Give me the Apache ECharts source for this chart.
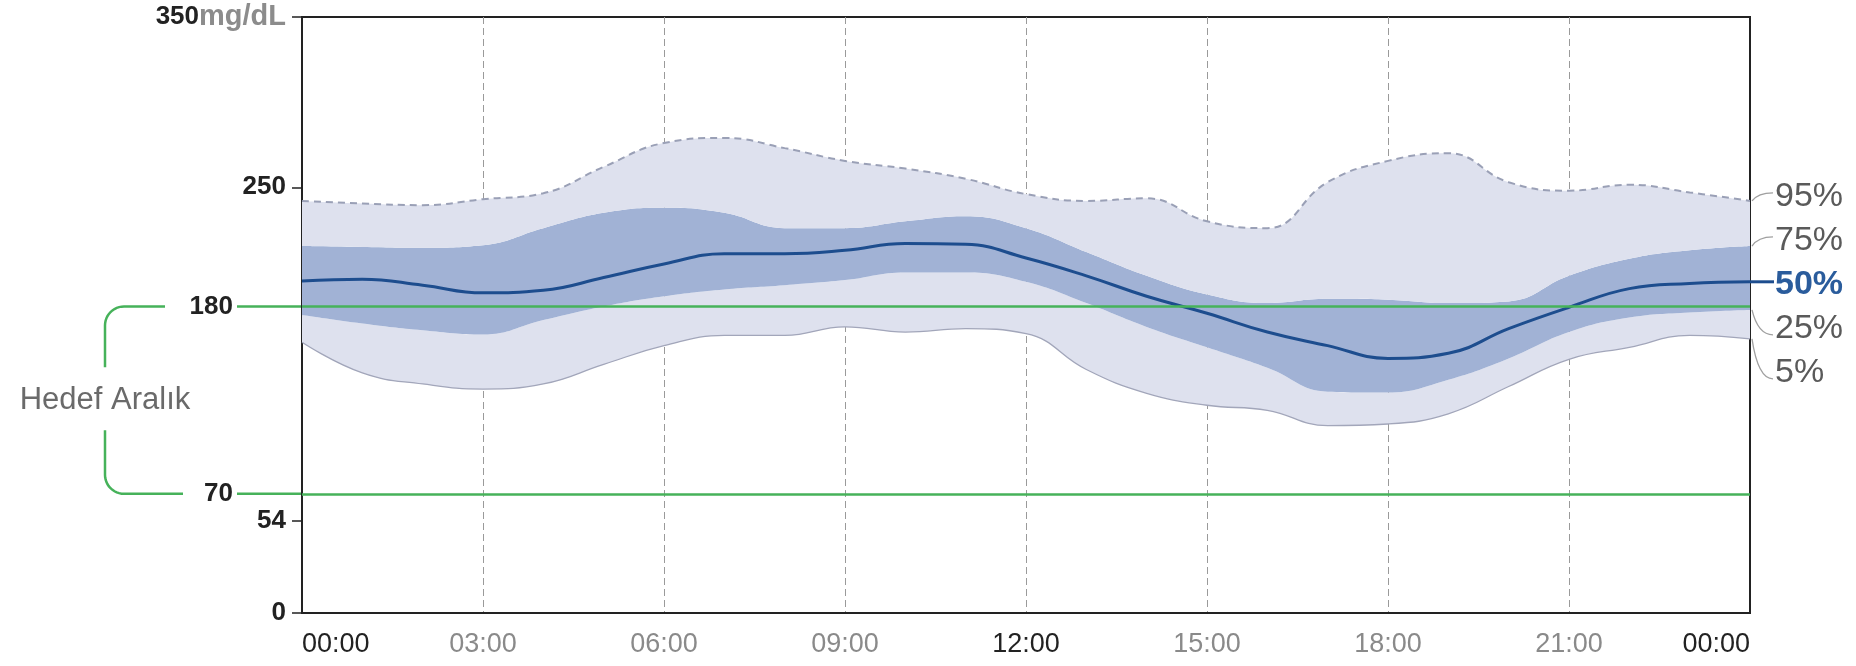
<!DOCTYPE html>
<html><head><meta charset="utf-8">
<script src="https://cdn.jsdelivr.net/npm/echarts@6/dist/echarts.min.js"></script>
<style>html,body{margin:0;padding:0;background:#fff}#c{width:1856px;height:666px}</style>
</head><body><div id="c"></div>
<script>
// ---- data (mg/dL per hour of day) ----
const hours = [0,1,2,3,4,5,6,7,8,9,10,11,12,13,14,15,16,17,18,19,20,21,22,23,24];
const p5  = [159,141,134.5,131.5,134.5,146,157,163,163,168,165,167,164,143,129,122,119,110,111,117,133,149,156,163,161];
const p25 = [175,170,166,163.5,172,180,186,190,192.5,195.5,200,200,194.5,182,168,156,144,130,129.5,137,149.5,165,173.5,176.5,178];
const p50 = [195,196,192.5,188,189.5,197,205,211,211,213,217,216.5,208.5,198,186,176,165,157,149.5,152.5,167,179.5,190.5,193.5,194.5];
const p75 = [215.5,215,214.5,216,226,235,238,235,226,226,230,233,226,212,198,187,182,184.5,184,182,183,198,208,213,215.5];
const p95 = [242,240.5,239.5,243,246.5,262,276,279,273,265.5,261,255,246,242,243.5,230,226,253,265.5,270,253,248,251.5,247,242];
const yTicks = [0,54,250,350];
const targetRange = [70,180];
const xTickLabels = ['00:00','03:00','06:00','09:00','12:00','15:00','18:00','21:00','00:00'];
const pctLabels = ['95%','75%','50%','25%','5%'];
const unitLabel = 'mg/dL';
const targetLabel = 'Hedef Aralık';

const diff = (a,b) => a.map((v,i)=>v-b[i]);
const LIGHT = '#dee1ee', DARK = '#a1b2d5', MED = '#1d4d8e', GREEN = '#46b25a';
const SM = 0.45;
const FONT = '"Liberation Sans",Arial,sans-serif';

const chart = echarts.init(document.getElementById('c'), null, {renderer:'canvas'});
const bandSeries = (name, data, color) => ({
  name, type:'line', stack:'band', data, smooth:SM, symbol:'none', silent:true, z:2,
  lineStyle:{width:0, opacity:0}, areaStyle: color ? {color, opacity:1} : undefined
});
chart.setOption({
  animation:false,
  grid:{left:302, right:106, top:17, bottom:53, show:true, borderColor:'#222', borderWidth:2, backgroundColor:'transparent', outerBoundsMode:'none'},
  xAxis:{type:'category', data:hours, boundaryGap:false,
    axisLine:{show:true, onZero:false, lineStyle:{color:'#222', width:2}},
    axisTick:{show:false},
    splitLine:{show:true, interval:2, showMinLine:false, showMaxLine:false, lineStyle:{color:'#9a9a9a', width:1, type:[7,4]}},
    axisLabel:{margin:18, interval:2, fontFamily:FONT, fontSize:27, alignMinLabel:'left', alignMaxLabel:'right',
      formatter:(v,i) => (i%12===0 ? '{d|' : '{g|') + xTickLabels[Math.round(i/3)] + '}',
      rich:{d:{color:'#222', fontSize:27, fontFamily:FONT},
            g:{color:'#8a8a8a', fontSize:27, fontFamily:FONT}}}
  },
  yAxis:{type:'value', min:0, max:350,
    axisLine:{show:true, onZero:false, lineStyle:{color:'#222', width:2}},
    axisTick:{show:true, length:10, customValues:yTicks, lineStyle:{color:'#222', width:1.5}},
    splitLine:{show:false},
    axisLabel:{margin:16, customValues:yTicks, fontFamily:FONT, fontSize:26, fontWeight:'bold', color:'#222',
      formatter:v => v===350 ? '{b|350}{u|'+unitLabel+'}' : '{b|'+v+'}',
      rich:{b:{fontSize:26, fontWeight:'bold', color:'#222', fontFamily:FONT},
            u:{fontSize:29, fontWeight:'bold', color:'#8c8c8c', fontFamily:FONT}}}
  },
  series:[
    bandSeries('base', p5, null),
    bandSeries('5-25', diff(p25,p5), LIGHT),
    bandSeries('25-75', diff(p75,p25), DARK),
    bandSeries('75-95', diff(p95,p75), LIGHT),
    {name:'target', type:'line', data:[], z:3, silent:true,
      markLine:{silent:true, symbol:'none', label:{show:false}, animation:false,
        lineStyle:{color:GREEN, width:2.5, type:'solid'},
        data: targetRange.map(v=>({yAxis:v}))}},
    {name:'95%', type:'line', data:p95, smooth:SM, symbol:'none', z:3, silent:true,
      lineStyle:{color:'#9aa0b6', width:2, type:[7,5]}},
    {name:'5%', type:'line', data:p5, smooth:SM, symbol:'none', z:3, silent:true,
      lineStyle:{color:'#a2a6ba', width:1.3}},
    {name:'50%', type:'line', data:p50, smooth:SM, symbol:'none', z:4, silent:true,
      lineStyle:{color:MED, width:3}}
  ]
});

// ---- annotations positioned through the chart's scales ----
const last = hours.length-1;
const px = (i,v) => chart.convertToPixel({gridIndex:0},[i,v]);
const [xL, y180] = px(0, targetRange[1]);
const [, y70] = px(0, targetRange[0]);
const xR = px(last,0)[0];
const endVals = [p95[last], p75[last], p50[last], p25[last], p5[last]];
const yMed = px(last, p50[last])[1];
const g = [];
const bx = 105, r = 19, midY = (y180+y70)/2;
const greenStyle = {stroke:GREEN, lineWidth:2.5, fill:null};
const arc = (cx,cy,a0,a1) => { const p=[]; for(let k=0;k<=12;k++){const a=(a0+(a1-a0)*k/12)*Math.PI/180; p.push([cx+r*Math.cos(a), cy+r*Math.sin(a)]);} return p; };
g.push({type:'polyline', shape:{points:[[165,y180], ...arc(bx+r, y180+r, 270, 180), [bx, midY-33]]}, style:greenStyle, silent:true});
g.push({type:'polyline', shape:{points:[[bx, midY+30], ...arc(bx+r, y70-r, 180, 90), [183, y70]]}, style:greenStyle, silent:true});
g.push({type:'line', shape:{x1:237, y1:y180, x2:xL, y2:y180}, style:greenStyle, silent:true});
g.push({type:'line', shape:{x1:237, y1:y70, x2:xL, y2:y70}, style:greenStyle, silent:true});
g.push({type:'text', x:233, y:y180, style:{text:String(targetRange[1]), font:'bold 26px '+FONT, fill:'#222', textAlign:'right', textVerticalAlign:'middle'}, silent:true});
g.push({type:'text', x:233, y:y70, style:{text:String(targetRange[0]), font:'bold 26px '+FONT, fill:'#222', textAlign:'right', textVerticalAlign:'middle'}, silent:true});
g.push({type:'text', x:bx, y:midY, style:{text:targetLabel, font:'31px '+FONT, fill:'#6a6a6a', textAlign:'center', textVerticalAlign:'middle'}, silent:true});

const labX = xR + 25, gap = 44;
pctLabels.forEach((t,i)=>{
  const ly = yMed + 3 + (i-2)*gap;
  const vy = px(last, endVals[i])[1];
  if (i===2) {
    g.push({type:'line', shape:{x1:xR, y1:vy, x2:labX-1, y2:vy}, style:{stroke:MED, lineWidth:3}, silent:true});
  } else {
    const ty = ly + (i<2 ? -4 : 6);
    g.push({type:'bezierCurve', shape:{x1:xR+2, y1:vy, x2:labX-2, y2:ty, cpx1:xR+8, cpy1:ty}, style:{stroke:'#a0a0a0', lineWidth:1.3, fill:null}, silent:true});
  }
  g.push({type:'text', x:labX, y:ly, style:{text:t,
    font:(i===2?'bold ':'')+'34px '+FONT,
    fill: i===2 ? '#2a5c9c' : '#5a5a5a', textAlign:'left', textVerticalAlign:'middle'}, silent:true});
});
chart.setOption({graphic:g});
</script>
</body></html>
